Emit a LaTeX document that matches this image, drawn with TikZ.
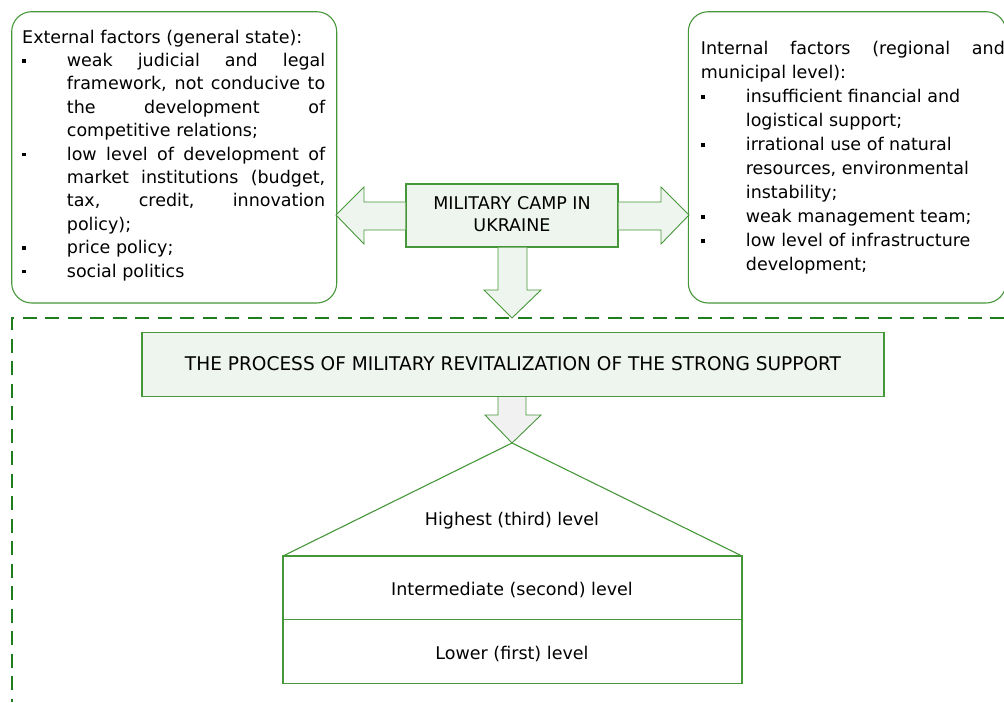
\documentclass[tikz,border=0pt]{standalone}
\usepackage{fontspec}
\setmainfont{DejaVu Sans}
\usetikzlibrary{calc}
\definecolor{gline}{RGB}{70,150,58}
\definecolor{gdash}{RGB}{30,125,30}
\definecolor{gfill}{RGB}{238,245,238}
\definecolor{afill}{RGB}{240,241,240}
\newcommand{\jl}[2]{\makebox[#1][s]{#2}}
\newcommand{\bsq}{\rule[3.6pt]{3.8pt}{3.8pt}}
\newcommand{\fsz}{\fontsize{17.5}{23.4}\selectfont}
\tikzset{
  fbox/.style={draw=gline, line width=1.1pt, fill=white, rounded corners=20pt, inner sep=0pt},
  gbox/.style={draw=gline, line width=1.1pt, fill=gfill, inner sep=0pt},
  garrow/.style={draw=gline, line width=0.9pt, fill=gfill, line join=miter},
  grarrow/.style={draw=gline, line width=0.9pt, fill=afill, line join=miter},
  lvl/.style={draw=gline, line width=1.1pt, fill=white},
  txt/.style={inner sep=0pt, font=\fsz}
}
\begin{document}
\begin{tikzpicture}[x=1pt, y=-1pt]
\useasboundingbox (0,0) rectangle (1004,702);
% boxes
\node[fbox, minimum width=325pt, minimum height=291.3pt] (lbox) at (174.2,157.35) {};
\node[fbox, minimum width=317.7pt, minimum height=291.3pt] (rbox) at (847.15,157.35) {};
\node[gbox, minimum width=212pt, minimum height=63pt] (camp) at (512,215.5) {};
\node[txt, align=center] (camptxt) at (512,214) {MILITARY CAMP IN\\[-1.5pt]UKRAINE};
% left text
\node[txt, anchor=base west] (ltext) at (22,43) {\begin{minipage}[t]{320pt}\fsz\setlength{\parindent}{0pt}%
\mbox{External factors (general state):}\par
\mbox{\makebox[44.7pt][l]{\bsq}\jl{258.3pt}{weak judicial and legal}}\par
\mbox{\hspace*{44.7pt}\jl{258.3pt}{framework, not conducive to}}\par
\mbox{\hspace*{44.7pt}\jl{258.3pt}{the development of}}\par
\mbox{\hspace*{44.7pt}competitive relations;}\par
\mbox{\makebox[44.7pt][l]{\bsq}\jl{258.3pt}{low level of development of}}\par
\mbox{\hspace*{44.7pt}\jl{258.3pt}{market institutions (budget,}}\par
\mbox{\hspace*{44.7pt}\jl{258.3pt}{tax, credit, innovation}}\par
\mbox{\hspace*{44.7pt}policy);}\par
\mbox{\makebox[44.7pt][l]{\bsq}price policy;}\par
\mbox{\makebox[44.7pt][l]{\bsq}social politics}
\end{minipage}};
% right text
\node[txt, anchor=base west] (rtext) at (700.7,54) {\begin{minipage}[t]{320pt}\fontsize{17.5}{24.1}\selectfont\setlength{\parindent}{0pt}%
\mbox{\jl{304pt}{Internal factors (regional and}}\par
\mbox{municipal level):}\par
\mbox{\makebox[45pt][l]{\bsq}insufficient financial and}\par
\mbox{\hspace*{45pt}logistical support;}\par
\mbox{\makebox[45pt][l]{\bsq}irrational use of natural}\par
\mbox{\hspace*{45pt}resources, environmental}\par
\mbox{\hspace*{45pt}instability;}\par
\mbox{\makebox[45pt][l]{\bsq}weak management team;}\par
\mbox{\makebox[45pt][l]{\bsq}low level of infrastructure}\par
\mbox{\hspace*{45pt}development;}
\end{minipage}};
% arrows from camp
\filldraw[garrow] (camp.west |- 0,202) -- (364,202) -- (364,187) -- (336,215) -- (364,244) -- (364,230) -- (camp.west |- 0,230);
\filldraw[garrow] (camp.east |- 0,202) -- (661,202) -- (661,187) -- (689,215) -- (661,244) -- (661,230) -- (camp.east |- 0,230);
\filldraw[garrow] (498,0 |- camp.south) -- (498,290) -- (484,290) -- (512,318) -- (541,290) -- (527,290) -- (527,0 |- camp.south);
% dashed frame
\coordinate (dc) at (12,318);
\coordinate (dr) at (1004,318);
\coordinate (db) at (12,702);
\draw[gdash, line width=1.5pt, dash pattern=on 14pt off 8.5pt] (dr) -- (dc) -- (db);
% process box
\node[gbox, minimum width=742pt, minimum height=64pt] (proc) at (513,364.5) {};
\node[inner sep=0pt] (proctxt) at (513,364) {\resizebox{656pt}{14pt}{\fontsize{17}{20}\selectfont THE PROCESS OF MILITARY REVITALIZATION OF THE STRONG SUPPORT}};
% arrow to pyramid
\coordinate (apex) at (512,443);
\filldraw[grarrow] (498,0 |- proc.south) -- (498,415) -- (485,415) -- (apex) -- (541,415) -- (526,415) -- (526,0 |- proc.south);
% pyramid
\coordinate (bl) at (283,556);
\coordinate (br) at (742,556);
\draw[gline, line width=1.1pt] (bl) -- (apex) -- (br);
\node[lvl, minimum width=459pt, minimum height=63.5pt, inner sep=0pt] (mid) at (512.5,587.75) {};
\node[lvl, minimum width=459pt, minimum height=64pt, inner sep=0pt] (low) at (512.5,651.5) {};
\node[txt, anchor=base] (t3) at (512,525.5) {Highest (third) level};
\node[txt, anchor=base] (t2) at (512,595) {Intermediate (second) level};
\node[txt, anchor=base] (t1) at (512,659) {Lower (first) level};
\end{tikzpicture}
\end{document}
